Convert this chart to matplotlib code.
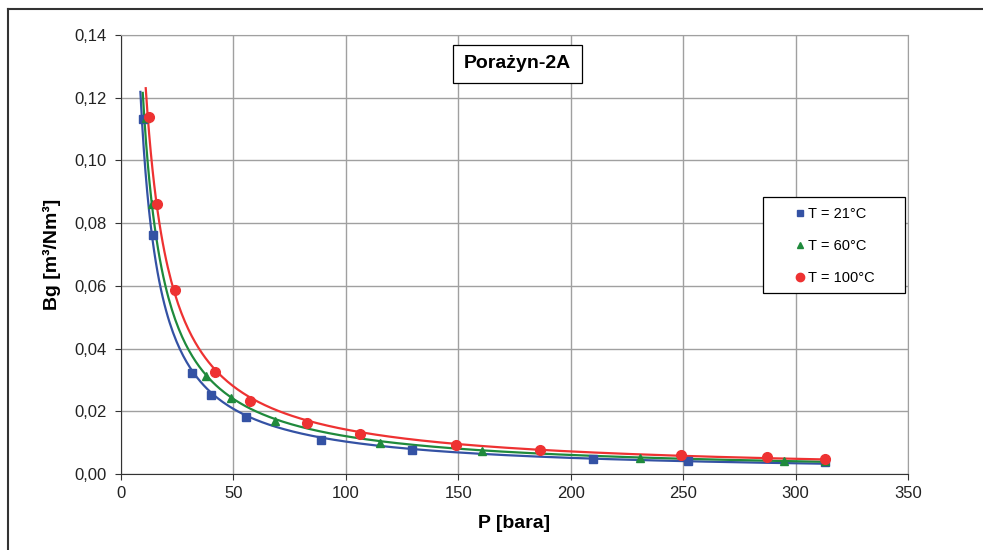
import numpy as np
import matplotlib.pyplot as plt
from matplotlib.ticker import FuncFormatter, MultipleLocator
from matplotlib.lines import Line2D
from matplotlib.patches import Rectangle

plt.rcParams['font.family'] = ['Liberation Sans', 'DejaVu Sans']

# pomiary Bg w funkcji cisnienia (odczyt z wykresu)
p_21 = [9.8, 14.2, 31.6, 40.0, 55.6, 88.9, 129.4, 209.9, 252.2, 313.0]
bg_21 = [0.1132, 0.0762, 0.0322, 0.0252, 0.0182, 0.0110, 0.0075, 0.0048, 0.0041, 0.0037]

p_60 = [11.0, 13.6, 37.6, 48.8, 68.5, 115.2, 160.6, 230.8, 295.0, 313.0]
bg_60 = [0.1135, 0.0861, 0.0313, 0.0241, 0.0170, 0.0100, 0.0074, 0.0052, 0.0043, 0.0041]

p_100 = [12.5, 16.0, 24.0, 41.8, 57.4, 82.7, 106.3, 148.8, 186.3, 248.9, 287.1, 313.1]
bg_100 = [0.1139, 0.0861, 0.0587, 0.0325, 0.0234, 0.0163, 0.0128, 0.0094, 0.0076, 0.0060, 0.0053, 0.0048]

series = [
    ("T = 21°C", p_21, bg_21, "#3452a4", "s", 5.5),
    ("T = 60°C", p_60, bg_60, "#1f8a3c", "^", 6),
    ("T = 100°C", p_100, bg_100, "#ee3232", "o", 7),
]

fig = plt.figure(figsize=(9.83, 5.5), dpi=100)
ax = fig.add_axes([121 / 983, 1 - 474 / 550, 787 / 983, 439 / 550])

handles = []
for label, p, bg, col, mk, ms in series:
    p = np.array(p)
    bg = np.array(bg)
    # linia trendu potegowa, jak w Excelu
    b, a = np.polyfit(np.log(p), np.log(bg), 1)
    xs = np.linspace(p.min() * 0.88, p.max(), 400)
    ax.plot(xs, np.exp(a) * xs ** b, color=col, lw=1.6, zorder=3)
    ax.plot(p, bg, ls='none', marker=mk, ms=ms, color=col, zorder=4)
    handles.append(Line2D([], [], ls='none', marker=mk, ms=ms - 1, color=col, label=label))

ax.set_xlim(0, 350)
ax.set_ylim(0, 0.14)
ax.xaxis.set_major_locator(MultipleLocator(50))
ax.yaxis.set_major_locator(MultipleLocator(0.02))
ax.yaxis.set_major_formatter(FuncFormatter(lambda v, _: f"{v:.2f}".replace(".", ",")))
ax.grid(True, color="#a0a0a0", lw=1.0, zorder=0)
ax.set_axisbelow(True)

for s in ["top", "right"]:
    ax.spines[s].set_color("#a0a0a0")
for s in ["left", "bottom"]:
    ax.spines[s].set_color("#333333")
ax.tick_params(direction="out", length=4, color="#333333", labelsize=12, labelcolor="#222222")
ax.tick_params(axis="y", pad=6)
ax.tick_params(axis="x", pad=4.5)

ax.set_xlabel("P [bara]", fontsize=14, fontweight="bold", labelpad=10)
ax.set_ylabel("Bg [m³/Nm³]", fontsize=14, fontweight="bold", labelpad=10)

ax.text(0.504, 0.934, "Porażyn-2A", transform=ax.transAxes, ha="center", va="center",
        fontsize=14, fontweight="bold", zorder=5,
        bbox=dict(boxstyle="square,pad=0.55", fc="white", ec="black", lw=0.9))

# ramka legendy szersza niz sama legenda
ax.add_patch(Rectangle((0.8158, 0.4123), 0.1804, 0.2187, transform=ax.transAxes,
                       fc="white", ec="black", lw=0.9, zorder=5))
leg = ax.legend(handles=handles, loc="center left", bbox_to_anchor=(0.855, 0.519),
                borderaxespad=0, borderpad=0, fontsize=10.5, frameon=False,
                labelspacing=1.22, handlelength=0.8, handletextpad=0.15)
leg.set_zorder(6)

# ramka wokol calego wykresu
fig.add_artist(Line2D([8 / 983, 8 / 983], [0, 1 - 8.5 / 550], color="#333333", lw=1.5))
fig.add_artist(Line2D([8 / 983, 1], [1 - 8.5 / 550, 1 - 8.5 / 550], color="#333333", lw=1.5))

fig.savefig("out.png", dpi=100)
